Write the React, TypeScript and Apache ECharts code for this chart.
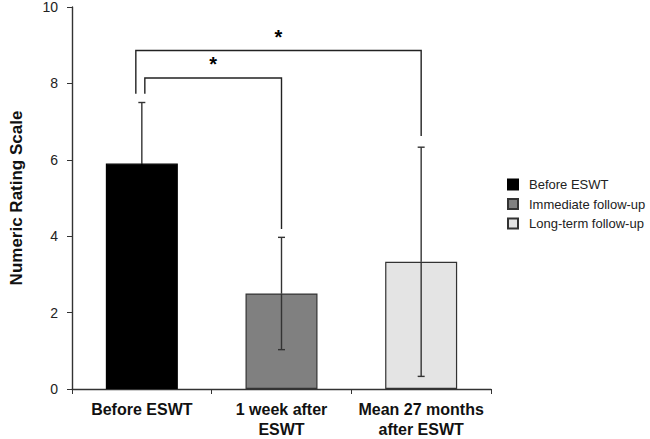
import React, { useEffect, useRef } from "react";
import * as echarts from "echarts";

const categories = ["Before ESWT", "1 week after\nESWT", "Mean 27 months\nafter ESWT"];
const seriesNames = ["Before ESWT", "Immediate follow-up", "Long-term follow-up"];
const means = [5.9, 2.5, 3.33];
const sds = [1.6, 1.47, 3.0];
const barColors = ["#000000", "#808080", "#e4e4e4"];
// [fromIndex, toIndex, bracketY, leftLegBottom, rightLegBottom]
const brackets = [
  [0, 1, 8.14, 7.73, 4.19],
  [0, 2, 8.86, 7.73, 6.62],
];
const bracketLabels = ["*", "*"];
const leftLegOffsets = [3, -6];
const yTicks = [0, 2, 4, 6, 8, 10];

export default function App() {
  const ref = useRef<HTMLDivElement>(null);
  useEffect(() => {
    const chart = echarts.init(ref.current!, undefined, { renderer: "svg" });
    const font = "Arial, 'Liberation Sans', sans-serif";
    const lineColor = "#333333";

    const barSeries = seriesNames.map((name, i) => ({
      name,
      type: "bar",
      barWidth: 72,
      barGap: "-100%",
      data: categories.map((_, j) => (j === i ? means[i] : "-")),
      itemStyle: { color: barColors[i], borderColor: i === 0 ? "#000" : lineColor, borderWidth: 1.2 },
    }));

    const errorSeries = {
      type: "custom",
      silent: true,
      clip: false,
      z: 5,
      encode: { x: 0, y: 1 },
      data: means.map((m, i) => [i, m - sds[i], m + sds[i], m]),
      renderItem: (params: any, api: any) => {
        const i = api.value(0);
        const lo = api.coord([i, api.value(1)]);
        const hi = api.coord([i, api.value(2)]);
        const mid = api.coord([i, api.value(3)]);
        const x = lo[0];
        const w = 3.5;
        const style = { stroke: lineColor, lineWidth: 1.4 };
        const inner = { stroke: barColors[i] === "#000000" ? "#000" : lineColor, lineWidth: 1.4 };
        return {
          type: "group",
          children: [
            { type: "line", shape: { x1: x, y1: mid[1], x2: x, y2: hi[1] }, style },
            { type: "line", shape: { x1: x, y1: lo[1], x2: x, y2: mid[1] }, style: inner },
            { type: "line", shape: { x1: x - w, y1: hi[1], x2: x + w, y2: hi[1] }, style },
            { type: "line", shape: { x1: x - w, y1: lo[1], x2: x + w, y2: lo[1] }, style: inner },
          ],
        };
      },
    };

    const bracketSeries = {
      type: "custom",
      silent: true,
      clip: false,
      z: 6,
      encode: { x: 0, y: 2 },
      data: brackets.map((b, i) => [...b, i]),
      renderItem: (params: any, api: any) => {
        const idx = api.value(5);
        const p0 = api.coord([api.value(0), api.value(2)]);
        const p1 = api.coord([api.value(1), api.value(2)]);
        const l0 = api.coord([api.value(0), api.value(3)]);
        const l1 = api.coord([api.value(1), api.value(4)]);
        const xl = p0[0] + leftLegOffsets[idx];
        const xr = p1[0];
        const y = p0[1];
        return {
          type: "group",
          children: [
            {
              type: "polyline",
              shape: { points: [[xl, l0[1]], [xl, y], [xr, y], [xr, l1[1]]] },
              style: { stroke: "#222", lineWidth: 1.4, fill: "none" },
            },
            {
              type: "text",
              x: (xl + xr) / 2,
              y: y - 4,
              style: {
                text: bracketLabels[idx],
                fill: "#000",
                font: "bold 20px " + font,
                textAlign: "center",
                textVerticalAlign: "bottom",
              },
            },
          ],
        };
      },
    };

    chart.setOption({
      animation: false,
      backgroundColor: "#ffffff",
      grid: { left: 65, right: 159, top: 6, bottom: 45.5, containLabel: false },
      legend: {
        data: seriesNames,
        orient: "vertical",
        left: 502,
        top: 173,
        itemWidth: 10,
        itemHeight: 10,
        itemGap: 6.5,
        textStyle: { fontSize: 13, fontFamily: font, color: "#222", padding: [0, 0, 0, 6] },
        icon: "rect",
      },
      xAxis: {
        type: "category",
        data: categories,
        axisLine: { lineStyle: { color: lineColor, width: 1.4 } },
        axisTick: { show: true, length: 5, lineStyle: { color: lineColor } },
        axisLabel: {
          interval: 0,
          fontSize: 16,
          fontWeight: "bold",
          fontFamily: font,
          color: "#111",
          margin: 10,
          lineHeight: 20,
        },
      },
      yAxis: {
        type: "value",
        min: yTicks[0],
        max: yTicks[yTicks.length - 1],
        interval: 2,
        name: "Numeric Rating Scale",
        nameLocation: "middle",
        nameRotate: 90,
        nameGap: 47,
        nameTextStyle: { fontSize: 17, fontWeight: "bold", fontFamily: font, color: "#111" },
        axisLine: { show: true, lineStyle: { color: lineColor, width: 1.4 } },
        axisTick: { show: true, length: 5, lineStyle: { color: lineColor } },
        splitLine: { show: false },
        axisLabel: { fontSize: 14, fontFamily: font, color: "#222", margin: 14 },
      },
      series: [...barSeries, errorSeries, bracketSeries],
    });
    return () => chart.dispose();
  }, []);
  return <div ref={ref} style={{ width: 650, height: 439, position: "absolute", left: 0, top: 0 }} />;
}
